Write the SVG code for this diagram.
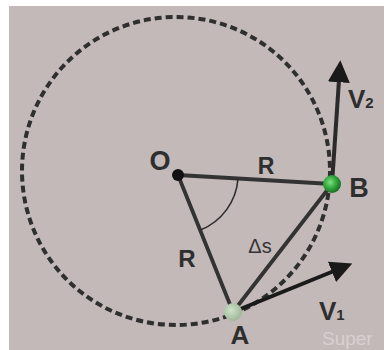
<svg xmlns="http://www.w3.org/2000/svg" width="384" height="350" viewBox="0 0 384 350">
<defs>
<radialGradient id="gB" cx="0.4" cy="0.4" r="0.6">
<stop offset="0" stop-color="#7fe07f"/>
<stop offset="0.6" stop-color="#2fa33a"/>
<stop offset="1" stop-color="#1d6e25"/>
</radialGradient>
<radialGradient id="gA" cx="0.4" cy="0.4" r="0.6">
<stop offset="0" stop-color="#cfe3c9"/>
<stop offset="1" stop-color="#9fb89a"/>
</radialGradient>
<marker id="ah" viewBox="0 0 10 10" refX="1" refY="5" markerWidth="5.5" markerHeight="5.5" markerUnits="strokeWidth" orient="auto">
<path d="M0,0 L10,5 L0,10 Z" fill="#1a1a1a"/>
</marker>
<style>
.lbl{font-family:"Liberation Sans",Arial,sans-serif;font-weight:bold;fill:#2e2e2e}
.seg{stroke:#333;stroke-width:3.8;fill:none;stroke-linecap:round}
</style>
</defs>
<rect x="0" y="0" width="384" height="350" fill="#ffffff"/>
<rect x="9" y="6" width="375" height="344" fill="#c4b9b9"/>
<circle cx="176" cy="171" r="154" fill="none" stroke="#2f2f2f" stroke-width="4" stroke-dasharray="7,4"/>
<g id="connectors">
<line class="seg" x1="178" y1="175" x2="332" y2="184"/>
<line class="seg" x1="178" y1="175" x2="233" y2="312"/>
<line class="seg" x1="233" y1="312" x2="332" y2="184"/>
<path d="M238,178.5 A60,60 0 0 1 200.5,230" fill="none" stroke="#2e2e2e" stroke-width="1.6"/>
<line x1="233" y1="312" x2="334" y2="271" stroke="#1a1a1a" stroke-width="4" marker-end="url(#ah)"/>
<line x1="332" y1="184" x2="339" y2="80" stroke="#2a2a2a" stroke-width="4" marker-end="url(#ah)"/>
</g>
<g id="node-O">
<circle cx="178" cy="175" r="6" fill="#111"/>
<text class="lbl" x="160" y="170" font-size="27" text-anchor="middle">O</text>
</g>
<g id="node-B">
<circle cx="332" cy="184" r="9" fill="url(#gB)"/>
<text class="lbl" x="359" y="197" font-size="27" text-anchor="middle">B</text>
</g>
<g id="node-A">
<circle cx="233" cy="312" r="9" fill="url(#gA)"/>
<text class="lbl" x="240" y="344" font-size="26" text-anchor="middle">A</text>
</g>
<g id="labels">
<text class="lbl" x="266" y="174" font-size="23" text-anchor="middle">R</text>
<text class="lbl" x="187" y="267" font-size="24" text-anchor="middle">R</text>
<text x="260" y="253" font-size="20" text-anchor="middle" font-family="Liberation Sans,Arial,sans-serif" fill="#333">Δs</text>
<text class="lbl" x="348" y="108" font-size="26">V<tspan font-size="15">2</tspan></text>
<text class="lbl" x="319" y="320" font-size="26">V<tspan font-size="15">1</tspan></text>
<text x="322" y="345" font-size="19" font-family="Liberation Sans,Arial,sans-serif" fill="#ffffff" fill-opacity="0.35">Super</text>
</g>
</svg>
